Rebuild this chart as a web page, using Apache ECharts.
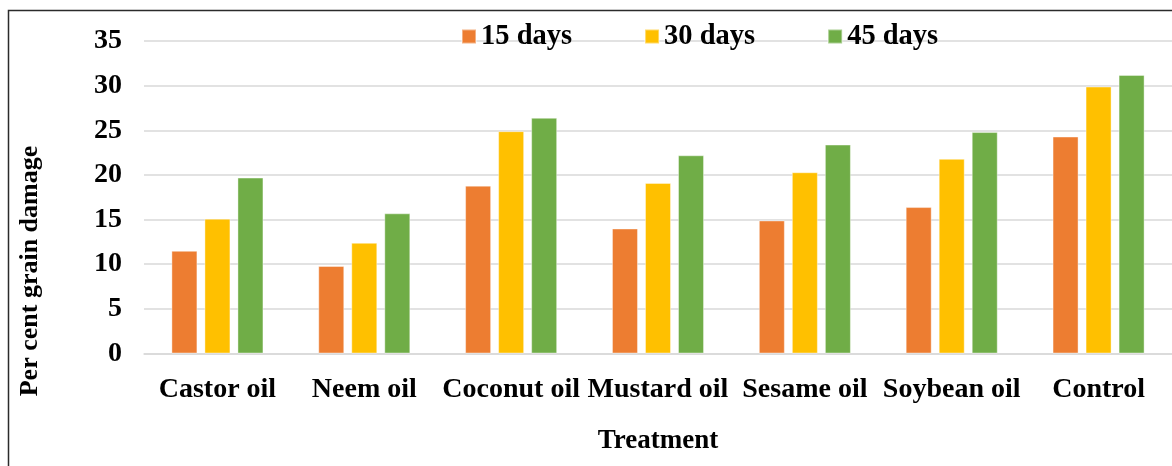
<!DOCTYPE html>
<html>
<head>
<meta charset="utf-8">
<style>
  html, body { margin: 0; padding: 0; background: #fff; }
  #chart { width: 1172px; height: 466px; }
</style>
<script src="https://cdn.jsdelivr.net/npm/echarts@6/dist/echarts.min.js"></script>
</head>
<body>
<div id="chart"></div>
<script>
// Per cent grain damage by oil treatment, after 15, 30 and 45 days of storage
const categories = ['Castor oil', 'Neem oil', 'Coconut oil', 'Mustard oil', 'Sesame oil', 'Soybean oil', 'Control'];
const seriesNames = ['15 days', '30 days', '45 days'];
const days15 = [11.5, 9.8, 18.8, 14.0, 14.9, 16.4, 24.3];
const days30 = [15.1, 12.4, 24.9, 19.1, 20.3, 21.8, 29.9];
const days45 = [19.7, 15.7, 26.4, 22.2, 23.4, 24.8, 31.2];
const yTicks = [0, 5, 10, 15, 20, 25, 30, 35];
const yTitle = 'Per cent grain damage';
const xTitle = 'Treatment';

const colors = ['#ED7D31', '#FFC000', '#70AD47'];
const font = '"Liberation Serif", "Times New Roman", serif';
const values = [days15, days30, days45];

const chart = echarts.init(document.getElementById('chart'), null, { renderer: 'canvas' });

chart.setOption({
  animation: false,
  backgroundColor: '#ffffff',
  textStyle: { fontFamily: font, fontWeight: 'bold', color: '#000' },
  graphic: [
    {
      // outer frame of the chart area
      type: 'rect',
      shape: { x: 8.5, y: 10.5, width: 1300, height: 600 },
      style: { fill: 'none', stroke: '#2b2b2b', lineWidth: 1.5 },
      silent: true,
      z: 100
    },
    {
      // vertical axis title
      type: 'text',
      x: 30,
      y: 271,
      rotation: Math.PI / 2,
      style: {
        text: yTitle,
        fontFamily: font,
        fontWeight: 'bold',
        fontSize: 26,
        fill: '#000',
        align: 'center',
        verticalAlign: 'middle'
      },
      silent: true
    }
  ],
  legend: {
    data: seriesNames,
    left: 456,
    top: 17,
    itemWidth: 14,
    itemHeight: 14,
    itemGap: 72,
    icon: 'rect',
    textStyle: { fontFamily: font, fontWeight: 'bold', fontSize: 28.5, color: '#000' }
  },
  grid: { left: 144, right: -6, top: 41, bottom: 112.5, containLabel: false },
  xAxis: {
    type: 'category',
    data: categories,
    name: xTitle,
    nameLocation: 'middle',
    nameGap: 74,
    nameTextStyle: { fontFamily: font, fontWeight: 'bold', fontSize: 27, color: '#000' },
    axisLine: { lineStyle: { color: '#D9D9D9', width: 1.5 } },
    axisTick: { show: false },
    axisLabel: { fontFamily: font, fontWeight: 'bold', fontSize: 28, color: '#000', margin: 22, interval: 0 }
  },
  yAxis: {
    type: 'value',
    min: yTicks[0],
    max: yTicks[yTicks.length - 1],
    interval: yTicks[1] - yTicks[0],
    axisLine: { show: false },
    axisTick: { show: false },
    splitLine: { lineStyle: { color: '#D9D9D9', width: 1.5 } },
    axisLabel: { fontFamily: font, fontWeight: 'bold', fontSize: 28, color: '#000', margin: 22 }
  },
  series: seriesNames.map((name, i) => ({
    name: name,
    type: 'bar',
    data: values[i],
    barWidth: 26,
    barGap: '27%',
    itemStyle: { color: colors[i], borderColor: 'rgba(255,255,255,0.4)', borderWidth: 1 }
  }))
});
</script>
</body>
</html>
